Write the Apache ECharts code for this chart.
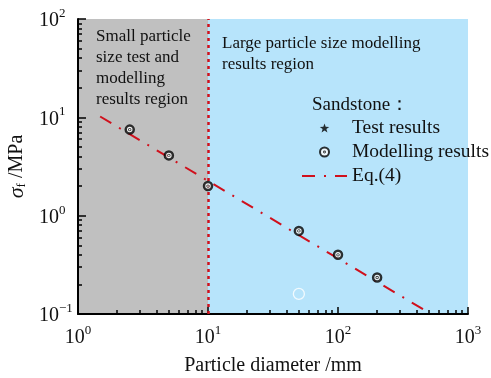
<!DOCTYPE html>
<html>
<head>
<meta charset="utf-8">
<script src="https://cdn.jsdelivr.net/npm/echarts@6/dist/echarts.min.js"></script>
<style>
  html, body { margin: 0; padding: 0; background: #ffffff; }
  #chart { width: 491px; height: 378px; }
</style>
</head>
<body>
<div id="chart"></div>
<script>
// Sandstone strength vs. particle diameter (log-log)
const diameters = [2.5, 5, 10, 50, 100, 200];          // mm
const modelStrength = [7.5, 4.1, 2.0, 0.70, 0.40, 0.235]; // MPa
const testDiameters = [];
const testStrength = [];
const eqDiameters = [1.48, 460];                          // Eq.(4) end points
const eqStrength = [10.2, 0.11];
const openDiameters = [50];
const openStrength = [0.16];
const boundaryDiameter = 10;

const xMajorTicks = [1, 10, 100, 1000];
const xMinorTicks = [2, 3, 4, 5, 6, 7, 8, 9, 20, 30, 40, 50, 60, 70, 80, 90, 200, 300, 400, 500, 600, 700, 800, 900];
const yMajorTicks = [0.1, 1, 10, 100];
const yMinorTicks = [0.2, 0.3, 0.4, 0.5, 0.6, 0.7, 0.8, 0.9, 2, 3, 4, 5, 6, 7, 8, 9, 20, 30, 40, 50, 60, 70, 80, 90];

const regionLeftText = 'Small particle\nsize test and\nmodelling\nresults region';
const regionRightText = 'Large particle size modelling\nresults region';
const legendTitle = 'Sandstone：';

const SERIF = '"Liberation Serif", "Times New Roman", serif';
const INK = '#111111';
const RED = '#d0101c';

// plot box
const GRID = { left: 78, right: 23, top: 19, bottom: 64, outerBoundsMode: 'none' };
const PLOT_W = 491 - GRID.left - GRID.right;
const PLOT_H = 378 - GRID.top - GRID.bottom;

const pair = (xs, ys) => xs.map((x, i) => [x, ys[i]]);

const ringSymbol = 'path://M0,-10A10,10,0,1,1,0,10A10,10,0,1,1,0,-10ZM0,-1A1,1,0,1,1,0,1A1,1,0,1,1,0,-1Z';
const starSymbol = 'path://M0,-10L2.35,-3.24L9.51,-3.09L3.8,1.24L5.88,8.09L0,4L-5.88,8.09L-3.8,1.24L-9.51,-3.09L-2.35,-3.24Z';

const powerLabel = v => {
  const e = Math.round(Math.log10(v));
  return '{b|10}{s|' + (e < 0 ? '\u2212' + (-e) : e) + '}';
};
const powerRich = {
  b: { fontFamily: SERIF, fontSize: 20, color: INK, verticalAlign: 'bottom', lineHeight: 24 },
  s: { fontFamily: SERIF, fontSize: 13, color: INK, verticalAlign: 'top', lineHeight: 24 }
};

const baseAxis = {
  type: 'log',
  logBase: 10,
  z: 10,
  splitLine: { show: false },
  axisLine: { show: true, onZero: false, lineStyle: { color: '#000', width: 2 } }
};

const chart = echarts.init(document.getElementById('chart'), null, { renderer: 'canvas' });

chart.setOption({
  backgroundColor: '#ffffff',
  animation: false,
  grid: GRID,
  xAxis: [
    Object.assign({}, baseAxis, {
      min: 1, max: 1000, position: 'bottom',
      name: 'Particle diameter /mm',
      nameLocation: 'middle', nameGap: 42, nameMoveOverlap: false,
      nameTextStyle: { fontFamily: SERIF, fontSize: 20, color: INK },
      axisTick: { show: true, inside: true, length: 7, customValues: xMajorTicks, lineStyle: { color: '#000', width: 1.5 } },
      axisLabel: { show: true, margin: 10, customValues: xMajorTicks, formatter: powerLabel, rich: powerRich }
    }),
    // minor ticks: a second axis moved onto the bottom edge, ticks pointing up
    Object.assign({}, baseAxis, {
      min: 1, max: 1000, position: 'top', offset: -PLOT_H,
      axisLine: { show: false },
      axisTick: { show: true, inside: false, length: 4, customValues: xMinorTicks, lineStyle: { color: '#000', width: 1.5 } },
      axisLabel: { show: false }
    })
  ],
  yAxis: [
    Object.assign({}, baseAxis, {
      min: 0.1, max: 100, position: 'left',
      name: '{sig|σ}{sub|f}{u| /MPa}',
      nameLocation: 'middle', nameGap: 50, nameMoveOverlap: false,
      nameTextStyle: {
        rich: {
          sig: { fontFamily: SERIF, fontStyle: 'italic', fontSize: 22, color: INK },
          sub: { fontFamily: SERIF, fontSize: 13, color: INK, verticalAlign: 'bottom', padding: [7, 0, 0, 0] },
          u: { fontFamily: SERIF, fontSize: 20, color: INK }
        }
      },
      axisTick: { show: true, inside: true, length: 8, customValues: yMajorTicks, lineStyle: { color: '#000', width: 1.5 } },
      axisLabel: { show: true, margin: 39, align: 'left', customValues: yMajorTicks, formatter: powerLabel, rich: powerRich }
    }),
    // minor ticks: a second axis moved onto the left edge, ticks pointing right
    Object.assign({}, baseAxis, {
      min: 0.1, max: 100, position: 'right', offset: -PLOT_W,
      axisLine: { show: false },
      axisTick: { show: true, inside: false, length: 4, customValues: yMinorTicks, lineStyle: { color: '#000', width: 1.5 } },
      axisLabel: { show: false }
    })
  ],
  legend: {
    orient: 'vertical',
    left: 301,
    top: 118,
    padding: 0,
    itemWidth: 45,
    itemHeight: 9,
    itemGap: 4,
    selectedMode: false,
    textStyle: { fontFamily: SERIF, fontSize: 19.5, color: INK },
    data: [
      { name: 'Test results', icon: starSymbol },
      { name: 'Modelling results' },
      { name: 'Eq.(4)', itemStyle: { color: 'rgba(0,0,0,0)', borderColor: 'rgba(0,0,0,0)', borderWidth: 0 } }
    ]
  },
  graphic: [
    {
      type: 'text', left: 96, top: 26.5, z: 10,
      style: { text: regionLeftText, fontFamily: SERIF, fontSize: 17, lineHeight: 21, fill: INK }
    },
    {
      type: 'text', left: 222, top: 33.5, z: 10,
      style: { text: regionRightText, fontFamily: SERIF, fontSize: 17, lineHeight: 21, fill: INK }
    },
    {
      type: 'text', left: 312, top: 96, z: 10,
      style: { text: legendTitle, fontFamily: SERIF, fontSize: 19, fill: INK }
    }
  ],
  series: [
    {
      // shaded size regions and the boundary at 10 mm
      name: 'regions',
      type: 'line',
      xAxisIndex: 0, yAxisIndex: 0,
      data: [],
      z: 1,
      silent: true,
      markArea: {
        silent: true,
        data: [
          [{ xAxis: 1, itemStyle: { color: '#c0c0c0' } }, { xAxis: boundaryDiameter }],
          [{ xAxis: boundaryDiameter, itemStyle: { color: '#b7e4fb' } }, { xAxis: 1000 }]
        ]
      },
      markLine: {
        silent: true,
        symbol: 'none',
        z: 20,
        label: { show: false },
        lineStyle: { color: RED, width: 2.5, type: [3, 4] },
        data: [{ xAxis: boundaryDiameter }]
      }
    },
    {
      name: 'Eq.(4)',
      type: 'line',
      xAxisIndex: 0, yAxisIndex: 0,
      data: pair(eqDiameters, eqStrength),
      symbol: 'none',
      z: 3,
      color: RED,
      lineStyle: { color: RED, width: 2, type: [13, 9, 2, 9] }
    },
    {
      name: 'Test results',
      type: 'scatter',
      xAxisIndex: 0, yAxisIndex: 0,
      data: pair(testDiameters, testStrength),
      symbol: starSymbol,
      symbolSize: 9,
      z: 4,
      itemStyle: { color: '#000' }
    },
    {
      name: 'Modelling results',
      type: 'scatter',
      xAxisIndex: 0, yAxisIndex: 0,
      data: pair(diameters, modelStrength),
      symbol: ringSymbol,
      symbolSize: 8,
      z: 21,
      itemStyle: { color: '#ffffff', borderColor: '#000000', borderWidth: 2.5 }
    },
    {
      name: 'open marker',
      type: 'scatter',
      xAxisIndex: 0, yAxisIndex: 0,
      data: pair(openDiameters, openStrength),
      symbol: 'circle',
      symbolSize: 11,
      z: 4,
      itemStyle: { color: 'rgba(0,0,0,0)', borderColor: '#ffffff', borderWidth: 1.3 }
    }
  ]
});
</script>
</body>
</html>
